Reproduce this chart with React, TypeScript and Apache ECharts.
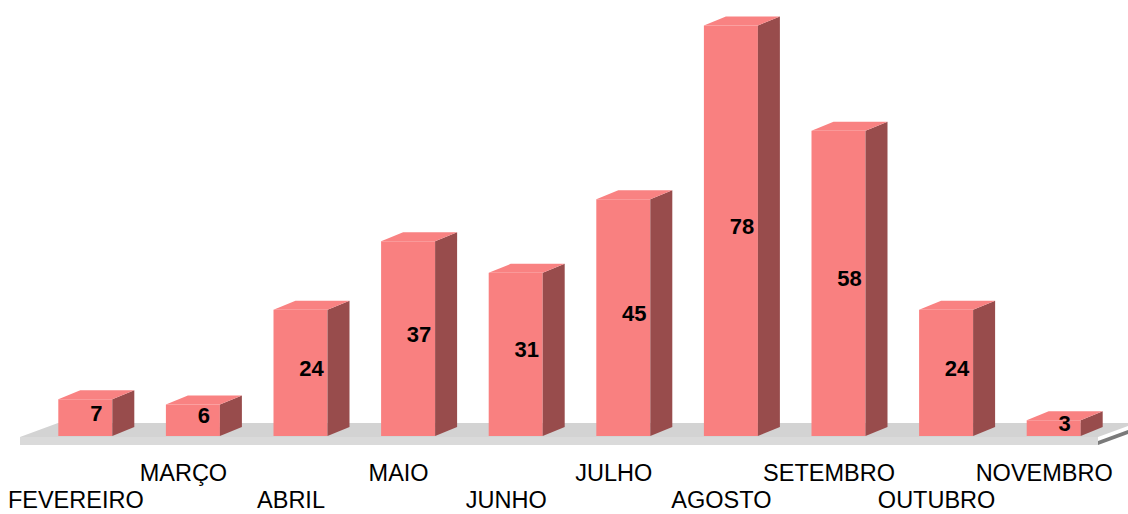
import React, { useEffect, useRef } from "react";
import * as echarts from "echarts";

// Monthly totals
const months = [
  "FEVEREIRO",
  "MARÇO",
  "ABRIL",
  "MAIO",
  "JUNHO",
  "JULHO",
  "AGOSTO",
  "SETEMBRO",
  "OUTUBRO",
  "NOVEMBRO",
];
const totals = [7, 6, 24, 37, 31, 45, 78, 58, 24, 3];

// Layout of the plot area
const W = 1128;
const H = 514;
const GRID_LEFT = 22;
const GRID_RIGHT = 30;
const GRID_TOP = 15;
const GRID_BOTTOM = 78;
const Y_MAX = 80;

// 3D box geometry
const FACE_W = 54;
const FACE_SHIFT = 9.5;
const DX = 22;
const DY = 9;

const FRONT = "#F98080";
const TOP = "#F98282";
const SIDE = "#984C4C";
const FONT = '"Liberation Sans", Arial, sans-serif';

export default function App() {
  const ref = useRef<HTMLDivElement>(null);

  useEffect(() => {
    if (!ref.current) return;
    const chart = echarts.init(ref.current, undefined, { renderer: "svg" });

    // floor slab under the bars
    const baseY = H - GRID_BOTTOM;
    const floorFront = baseY + 1;
    const floorBack = baseY - 13;
    const floorThick = 8;
    const fl = GRID_LEFT - 2;
    const fr = W - GRID_RIGHT;
    const shift = 38;

    chart.setOption({
      animation: false,
      grid: {
        left: GRID_LEFT,
        right: GRID_RIGHT,
        top: GRID_TOP,
        bottom: GRID_BOTTOM,
        containLabel: false,
        outerBoundsMode: "none",
      },
      xAxis: {
        type: "category",
        data: months,
        axisLine: { show: false },
        axisTick: { show: false },
        splitLine: { show: false },
        axisLabel: {
          interval: 0,
          hideOverlap: false,
          margin: 27,
          color: "#000",
          fontFamily: FONT,
          fontSize: 23.5,
          // months alternate between two rows
          formatter: (value: string, index: number) =>
            index % 2 === 0 ? "{gap| }\n{lab|" + value + "}" : "{lab|" + value + "}",
          rich: {
            gap: { fontSize: 10, lineHeight: 27 },
            lab: {
              fontSize: 23.5,
              lineHeight: 20,
              fontFamily: FONT,
              color: "#000",
            },
          },
        },
      },
      yAxis: {
        type: "value",
        min: 0,
        max: Y_MAX,
        show: false,
        splitLine: { show: false },
      },
      graphic: [
        {
          type: "polygon",
          z: 0,
          shape: {
            points: [
              [fl, floorFront],
              [fl + shift, floorBack],
              [fr + shift, floorBack],
              [fr, floorFront],
            ],
          },
          style: { fill: "#D3D3D3" },
        },
        {
          type: "rect",
          z: 0,
          shape: { x: fl, y: floorFront, width: fr - fl, height: floorThick },
          style: { fill: "#DADADA" },
        },
        {
          type: "polygon",
          z: 0,
          shape: {
            points: [
              [fr, floorFront + floorThick - 4],
              [fr + shift, floorBack + floorThick - 4],
              [fr + shift, floorBack + floorThick],
              [fr, floorFront + floorThick],
            ],
          },
          style: { fill: "#7A7A7A" },
        },
      ],
      series: [
        {
          type: "custom",
          data: totals.map((v, i) => [i, v]),
          encode: { x: 0, y: 1 },
          renderItem: (params: any, api: any) => {
            const i = api.value(0);
            const v = api.value(1);
            const top = api.coord([i, v]);
            const base = api.coord([i, 0]);
            const cx = top[0] + FACE_SHIFT;
            const x0 = cx - FACE_W / 2;
            const x1 = cx + FACE_W / 2;
            const yT = top[1];
            const yB = base[1];
            return {
              type: "group",
              children: [
                {
                  type: "rect",
                  shape: { x: x0, y: yT, width: FACE_W, height: yB - yT },
                  style: { fill: FRONT },
                },
                {
                  type: "polygon",
                  shape: {
                    points: [
                      [x1, yT],
                      [x1 + DX, yT - DY],
                      [x1 + DX, yB - DY],
                      [x1, yB],
                    ],
                  },
                  style: { fill: SIDE },
                },
                {
                  type: "polygon",
                  shape: {
                    points: [
                      [x0, yT],
                      [x0 + DX, yT - DY],
                      [x1 + DX, yT - DY],
                      [x1, yT],
                    ],
                  },
                  style: { fill: TOP },
                },
                {
                  type: "text",
                  x: (x0 + x1 + DX) / 2,
                  y: (yT - DY + yB) / 2,
                  style: {
                    text: String(v),
                    fill: "#000",
                    font: `bold 22px ${FONT}`,
                    align: "center",
                    verticalAlign: "middle",
                  },
                },
              ],
            };
          },
        },
      ],
    });

    return () => chart.dispose();
  }, []);

  return (
    <div
      ref={ref}
      style={{ position: "absolute", left: 0, top: 0, width: W, height: H }}
    />
  );
}
